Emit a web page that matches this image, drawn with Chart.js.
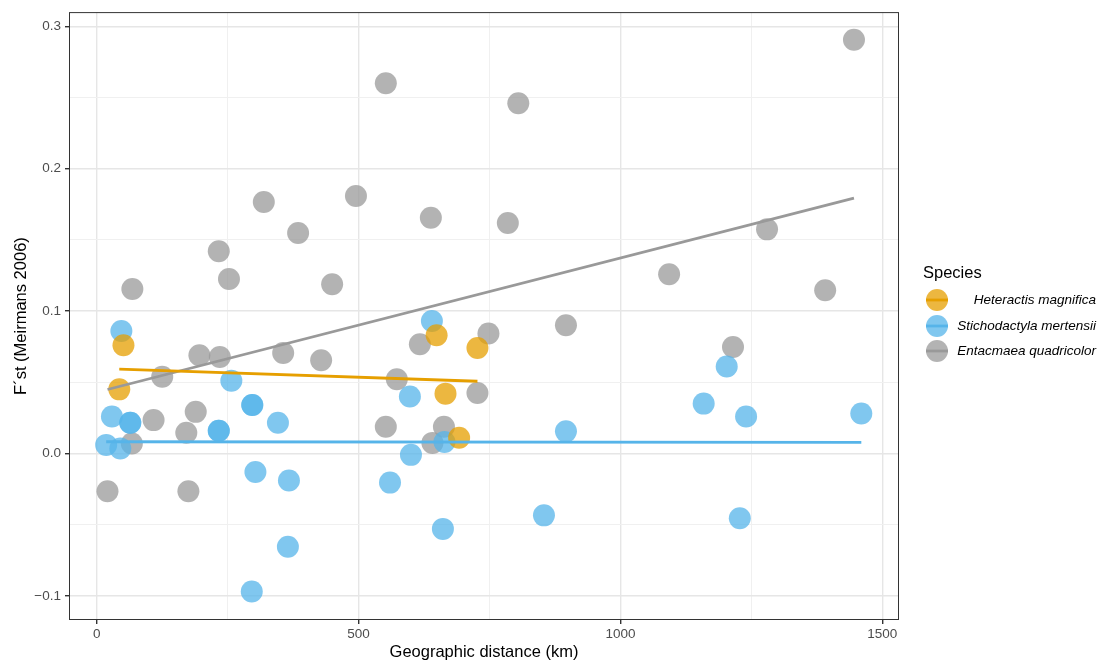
<!DOCTYPE html>
<html>
<head>
<meta charset="utf-8">
<script src="https://cdn.jsdelivr.net/npm/chart.js@4.4.1/dist/chart.umd.min.js"></script>
<style>
  html, body { margin: 0; padding: 0; background: #fff; }
  #wrap { position: relative; width: 1110px; height: 668px; font-family: "Liberation Sans", Arial, sans-serif; }
  #chart { position: absolute; left: 0; top: 0; }
  .leg-title { position: absolute; left: 923px; top: 262px; font-size: 16.5px; line-height: 20px; color: #000; }
  .leg-key { position: absolute; left: 924px; width: 26px; height: 26px; }
  .leg-label { position: absolute; right: 14px; font-size: 13.5px; line-height: 26px; font-style: italic; color: #000; white-space: nowrap; }
</style>
</head>
<body>
<div id="wrap">
  <canvas id="chart" width="1110" height="668"></canvas>
  <div id="legend"></div>
</div>
<script>
// species, colours
const species = ["Heteractis magnifica", "Stichodactyla mertensii", "Entacmaea quadricolor"];
const colors = ["#E69F00", "#56B4E9", "#999999"];

// Heteractis magnifica
const heteractisDist = [51, 43, 649, 727, 666, 692];
const heteractisFst = [0.076, 0.045, 0.083, 0.074, 0.042, 0.011];

// Stichodactyla mertensii
const stichoDist = [47, 29, 64, 64, 233, 233, 18, 45, 257, 297, 297, 346, 303, 367, 365, 296,
  640, 598, 664, 600, 560, 661, 896, 854, 1203, 1159, 1240, 1460, 1228];
const stichoFst = [0.086, 0.026, 0.0215, 0.0215, 0.016, 0.016, 0.006, 0.0035, 0.051, 0.034, 0.034, 0.0215, -0.013, -0.019, -0.0655, -0.097,
  0.093, 0.040, 0.008, -0.001, -0.0205, -0.053, 0.0155, -0.0435, 0.061, 0.035, 0.026, 0.028, -0.0455];

// Entacmaea quadricolor
const entacDist = [20.5, 175, 67, 108.5, 171, 189, 125, 196, 235, 356, 428.5, 552, 573, 617, 641, 663, 727, 748,
  896, 1215, 1093, 1391, 1280, 1446, 805, 785, 552, 638, 495, 319, 384.5, 233, 252.5, 449.5, 68];
const entacFst = [-0.0265, -0.0265, 0.007, 0.0234, 0.0145, 0.0292, 0.0538, 0.069, 0.0678, 0.0706, 0.0655, 0.0187, 0.0521, 0.0767, 0.0074, 0.0187, 0.0425, 0.0842,
  0.090, 0.0748, 0.1258, 0.1146, 0.1574, 0.2906, 0.246, 0.1618, 0.260, 0.1656, 0.1808, 0.1766, 0.1548, 0.142, 0.1225, 0.1188, 0.1155];

// linear fits (ends)
const heteractisFitDist = [43, 727];
const heteractisFitFst = [0.0592, 0.0507];
const stichoFitDist = [18, 1460];
const stichoFitFst = [0.0082, 0.0077];
const entacFitDist = [20.5, 1446];
const entacFitFst = [0.0449, 0.1793];

// axis ticks
const xMajor = [0, 500, 1000, 1500];
const xMinor = [250, 750, 1250];
const yMajor = [-0.1, 0, 0.1, 0.2, 0.3];
const yMinor = [-0.05, 0.05, 0.15, 0.25];

const FONT = "'Liberation Sans', Arial, sans-serif";

function hexA(hex, a) {
  const n = parseInt(hex.slice(1), 16);
  return `rgba(${n >> 16},${(n >> 8) & 255},${n & 255},${a})`;
}

const toXY = (xs, ys) => xs.map((x, i) => ({ x, y: ys[i] }));

function pointSet(xs, ys, color) {
  return {
    data: toXY(xs, ys),
    backgroundColor: hexA(color, 0.75),
    borderWidth: 0,
    pointRadius: 11,
    pointHoverRadius: 11
  };
}

function fitSet(xs, ys, color) {
  return {
    data: toXY(xs, ys),
    showLine: true,
    borderColor: color,
    borderWidth: 2.8,
    pointRadius: 0,
    pointHoverRadius: 0
  };
}

const isMajorX = v => xMajor.includes(v);
const isMajorY = v => Math.abs(Math.round(v * 10) - v * 10) < 1e-6;

const panelBorder = {
  id: "panelBorder",
  afterDraw(chart) {
    const { ctx, chartArea: a } = chart;
    ctx.save();
    ctx.strokeStyle = "#333333";
    ctx.lineWidth = 1;
    ctx.strokeRect(a.left + 0.5, a.top + 0.5, a.right - a.left - 1, a.bottom - a.top - 1);
    ctx.restore();
  }
};

new Chart(document.getElementById("chart"), {
  type: "scatter",
  data: {
    datasets: [
      fitSet(heteractisFitDist, heteractisFitFst, colors[0]),
      fitSet(stichoFitDist, stichoFitFst, colors[1]),
      fitSet(entacFitDist, entacFitFst, colors[2]),
      pointSet(heteractisDist, heteractisFst, colors[0]),
      pointSet(stichoDist, stichoFst, colors[1]),
      pointSet(entacDist, entacFst, colors[2])
    ]
  },
  options: {
    responsive: false,
    animation: false,
    events: [],
    layout: { padding: { top: 11, right: 211, left: 0, bottom: 0 } },
    plugins: { legend: { display: false }, tooltip: { enabled: false } },
    scales: {
      x: {
        type: "linear",
        min: -53,
        max: 1532,
        afterBuildTicks: s => { s.ticks = [...xMajor, ...xMinor].sort((a, b) => a - b).map(v => ({ value: v })); },
        afterFit: s => { s.height = 48; },
        ticks: {
          autoSkip: false,
          maxRotation: 0,
          padding: 2,
          color: "#4d4d4d",
          font: { family: FONT, size: 13.5 },
          callback: v => isMajorX(v) ? String(v) : ""
        },
        grid: {
          color: c => c.tick && isMajorX(c.tick.value) ? "#e6e6e6" : "#f0f0f0",
          tickColor: c => c.tick && isMajorX(c.tick.value) ? "#333333" : "rgba(0,0,0,0)",
          tickLength: 4,
          lineWidth: c => c.tick && isMajorX(c.tick.value) ? 1.4 : 1
        },
        border: { display: false },
        title: {
          display: true,
          text: "Geographic distance (km)",
          color: "#000",
          font: { family: FONT, size: 16.5 },
          padding: { top: 0, bottom: 6 }
        }
      },
      y: {
        type: "linear",
        min: -0.117,
        max: 0.31,
        afterBuildTicks: s => { s.ticks = [...yMajor, ...yMinor].sort((a, b) => a - b).map(v => ({ value: v })); },
        afterFit: s => { s.width = 69; },
        ticks: {
          autoSkip: false,
          padding: 4,
          color: "#4d4d4d",
          font: { family: FONT, size: 13.5 },
          callback: v => isMajorY(v) ? v.toFixed(1).replace("-", "\u2212") : ""
        },
        grid: {
          color: c => c.tick && isMajorY(c.tick.value) ? "#e6e6e6" : "#f0f0f0",
          tickColor: c => c.tick && isMajorY(c.tick.value) ? "#333333" : "rgba(0,0,0,0)",
          tickLength: 4,
          lineWidth: c => c.tick && isMajorY(c.tick.value) ? 1.4 : 1
        },
        border: { display: false },
        title: {
          display: true,
          text: "F\u00b4st (Meirmans 2006)",
          color: "#000",
          font: { family: FONT, size: 16.5 },
          padding: { top: 12, bottom: 0 }
        }
      }
    }
  },
  plugins: [panelBorder]
});

// legend
const legend = document.getElementById("legend");
const rowCenters = [300, 325.5, 351];
legend.innerHTML = '<div class="leg-title">Species</div>' + species.map((name, i) => {
  const top = rowCenters[i] - 13;
  return `<svg class="leg-key" style="top:${top}px" width="26" height="26">
      <circle cx="13" cy="13" r="11" fill="${hexA(colors[i], 0.75)}"></circle>
      <line x1="2" y1="13" x2="24" y2="13" stroke="${colors[i]}" stroke-width="2.8"></line>
    </svg>
    <div class="leg-label" style="top:${top}px">${name}</div>`;
}).join("");
</script>
</body>
</html>
